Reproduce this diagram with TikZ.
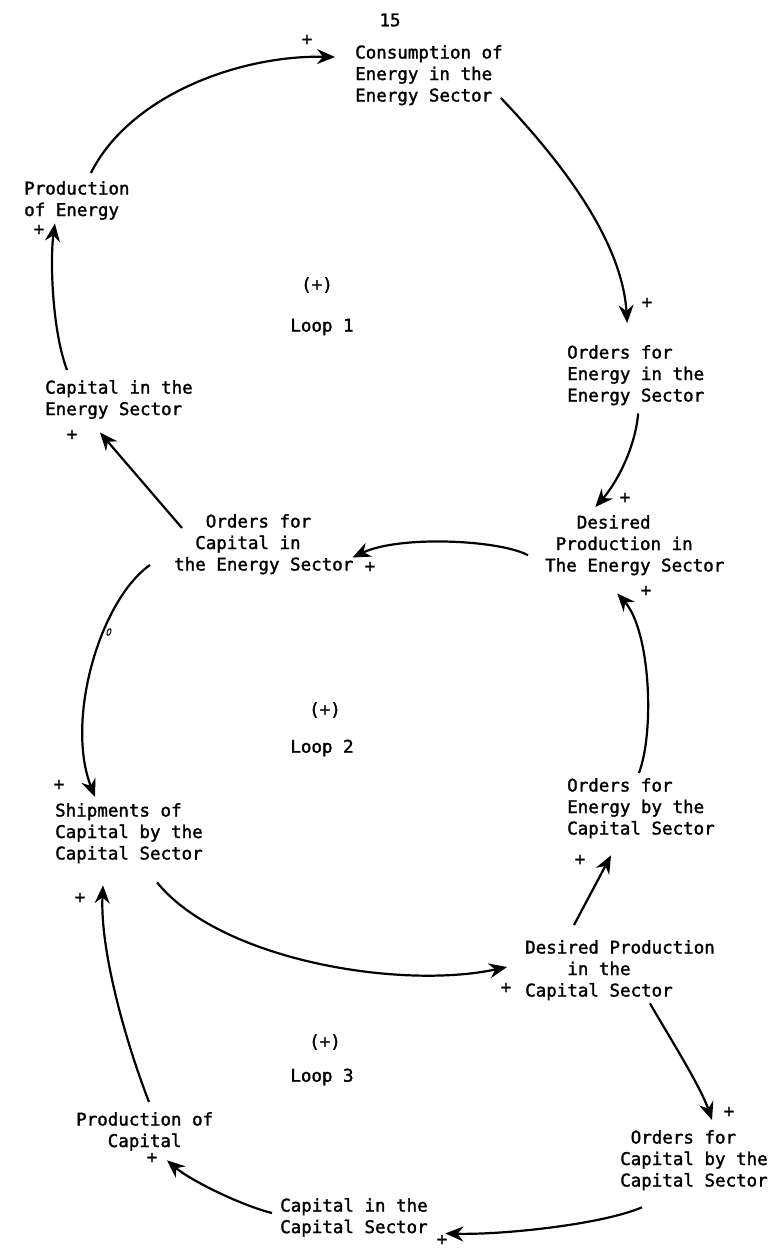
\documentclass[tikz,border=0pt]{standalone}
\usepackage{fontspec}
\newfontfamily\typefont[FakeBold=1.6]{DejaVu Sans Mono}
\usetikzlibrary{arrows.meta}
\begin{document}
\begin{tikzpicture}[x=1pt,y=-1pt,
  lbl/.style={font={\typefont\fontsize{17.5pt}{21.5pt}\selectfont}, inner sep=0pt, align=left, anchor=north west},
  sgn/.style={font={\typefont\fontsize{17.5pt}{21.5pt}\selectfont}, inner sep=0pt},
  link/.style={line width=2.2pt, -{Stealth[length=18pt,width=15pt,inset=6pt]}}]
\fill[white] (0,0) rectangle (781,1251);
\useasboundingbox (0,0) rectangle (781,1251);
% page number
\node[sgn] (pg) at (390,20) {15};
% variables
\node[lbl] (cons) at (355,45) {Consumption of\\Energy in the\\Energy Sector};
\node[lbl] (prodE) at (24,181) {Production\\of Energy};
\node[lbl] (capE) at (45,380) {Capital in the\\Energy Sector};
\node[lbl] (ordE) at (567,345) {Orders for\\Energy in the\\Energy Sector};
\node[lbl] (ordCapE) at (174,514) {\phantom{xxx}Orders for\\\phantom{xx}Capital in\\the Energy Sector};
\node[lbl] (desE) at (545,515) {\phantom{xxx}Desired\\\phantom{x}Production in\\The Energy Sector};
\node[lbl] (ship) at (55,803) {Shipments of\\Capital by the\\Capital Sector};
\node[lbl] (ordEC) at (567,778) {Orders for\\Energy by the\\Capital Sector};
\node[lbl] (desC) at (525,940) {Desired Production\\\phantom{xxxx}in the\\Capital Sector};
\node[lbl] (ordCC) at (620,1130) {\phantom{x}Orders for\\Capital by the\\Capital Sector};
\node[lbl] (capC) at (280,1198) {Capital in the\\Capital Sector};
\node[lbl,align=center] (prodC) at (76,1112) {Production of\\Capital};
% loop labels
\node[sgn] (l1s) at (317,285) {(+)};
\node[sgn] (l1) at (322,327) {Loop 1};
\node[sgn] (l2s) at (325,710) {(+)};
\node[sgn] (l2) at (322,748) {Loop 2};
\node[sgn] (l3s) at (325,1042) {(+)};
\node[sgn] (l3) at (322,1077) {Loop 3};
% polarity signs
\node[sgn] (p1) at (307,40) {+};
\node[sgn] (p2) at (647,303) {+};
\node[sgn] (p3) at (39,230) {+};
\node[sgn] (p4) at (72,435) {+};
\node[sgn] (p5) at (370,567) {+};
\node[sgn] (p6) at (625,498) {+};
\node[sgn] (p7) at (646,591) {+};
\node[sgn] (p8) at (59,785) {+};
\node[sgn] (p9) at (580,860) {+};
\node[sgn] (p10) at (80,898) {+};
\node[sgn] (p11) at (506,988) {+};
\node[sgn] (p12) at (729,1112) {+};
\node[sgn] (p13) at (442,1240) {+};
\node[sgn] (p14) at (152,1158) {+};
% connectors
\draw[link] ([xshift=14pt,yshift=8pt]prodE.north) .. controls (130,95) and (240,55) .. ([xshift=-20pt,yshift=-12pt]cons.north west);
\draw[link] ([xshift=-2pt,yshift=-53pt]cons.north east) .. controls (560,160) and (622,240) .. ([xshift=-8.5pt,yshift=22pt]ordE.north);
\draw[link] ([xshift=2.5pt,yshift=-8pt]ordE.south) .. controls (635,450) and (615,485) .. ([xshift=-39.5pt,yshift=8pt]desE.north);
\draw[link] ([xshift=-17pt,yshift=-10pt]desE.west) .. controls (500,540) and (400,535) .. ([xshift=-1pt,yshift=17pt]ordCapE.south east);
\draw[link] ([xshift=8pt,yshift=-14pt]ordCapE.north west) -- ([xshift=55pt,yshift=-13.5pt]capE.south west);
\draw[link] ([xshift=22pt,yshift=10pt]capE.north west) .. controls (52,330) and (50,260) .. ([xshift=-22pt,yshift=-3.5pt]prodE.south);
\draw[link] ([xshift=-24pt,yshift=-51pt]ordCapE.north west) .. controls (100,600) and (65,720) .. ([xshift=40pt,yshift=6pt]ship.north west);
\draw[link] ([xshift=-2pt,yshift=5pt]ordEC.north) .. controls (655,730) and (650,630) .. ([xshift=-17.5pt,yshift=-18pt]desE.south);
\draw[link] ([xshift=49pt,yshift=15pt]desC.north west) -- ([xshift=44pt,yshift=-17pt]ordEC.south west);
\draw[link] ([xshift=102pt,yshift=-19pt]ship.south west) .. controls (220,960) and (400,990) .. ([xshift=-18pt,yshift=-27pt]desC.north west);
\draw[link] ([xshift=125pt,yshift=-3pt]desC.south west) .. controls (665,1030) and (700,1085) .. ([xshift=92pt,yshift=10pt]ordCC.north west);
\draw[link] ([xshift=22pt,yshift=-17pt]ordCC.south west) .. controls (600,1225) and (500,1235) .. ([xshift=17.5pt,yshift=3.5pt]capC.south east);
\draw[link] ([xshift=-8pt,yshift=-15pt]capC.north west) .. controls (240,1205) and (190,1180) .. ([xshift=91pt,yshift=-9.5pt]prodC.south west);
\draw[link] ([xshift=73pt,yshift=10pt]prodC.north west) .. controls (125,1040) and (100,950) .. ([xshift=48pt,yshift=-22pt]ship.south west);
% small mark on the loop 2 link
\draw[line width=1pt, rotate around={-20:(109,632)}] (109,632) ellipse (1.8pt and 3.5pt);
\end{tikzpicture}
\end{document}
